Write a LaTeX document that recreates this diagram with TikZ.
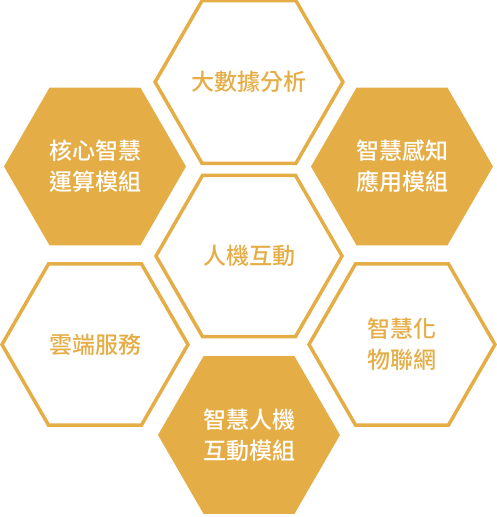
\documentclass[tikz,border=0pt]{standalone}
\usepackage{fontspec}
\setmainfont{Noto Sans CJK TC Medium}
\usetikzlibrary{shapes.geometric}
\definecolor{hexgold}{RGB}{229,173,70}

\begin{document}
\begin{tikzpicture}[x=1pt,y=-1pt,
  hexbase/.style={regular polygon, regular polygon sides=6, inner sep=0pt, outer sep=0pt,
    align=center, font=\fontsize{23}{31}\selectfont},
  hexline/.style={hexbase, draw=hexgold, line width=3.5pt, minimum size=186pt, text=hexgold},
  hexfill/.style={hexbase, fill=hexgold, minimum size=182pt, text=white}]
\useasboundingbox (0,0) rectangle (496,517);
% middle column
\node[hexline] (bigdata) at (249,82) {大數據分析};
\node[hexline] (hci) at (249,256) {人機互動};
\node[hexfill] (hcimod) at (249,435) {智慧人機\\互動模組};
% left column
\node[hexfill] (coremod) at (95,166.5) {核心智慧\\運算模組};
\node[hexline] (cloud) at (95,344.5) {雲端服務};
% right column
\node[hexfill] (sensemod) at (402,166.5) {智慧感知\\應用模組};
\node[hexline] (iot) at (402,344.5) {智慧化\\物聯網};
\end{tikzpicture}
\end{document}
